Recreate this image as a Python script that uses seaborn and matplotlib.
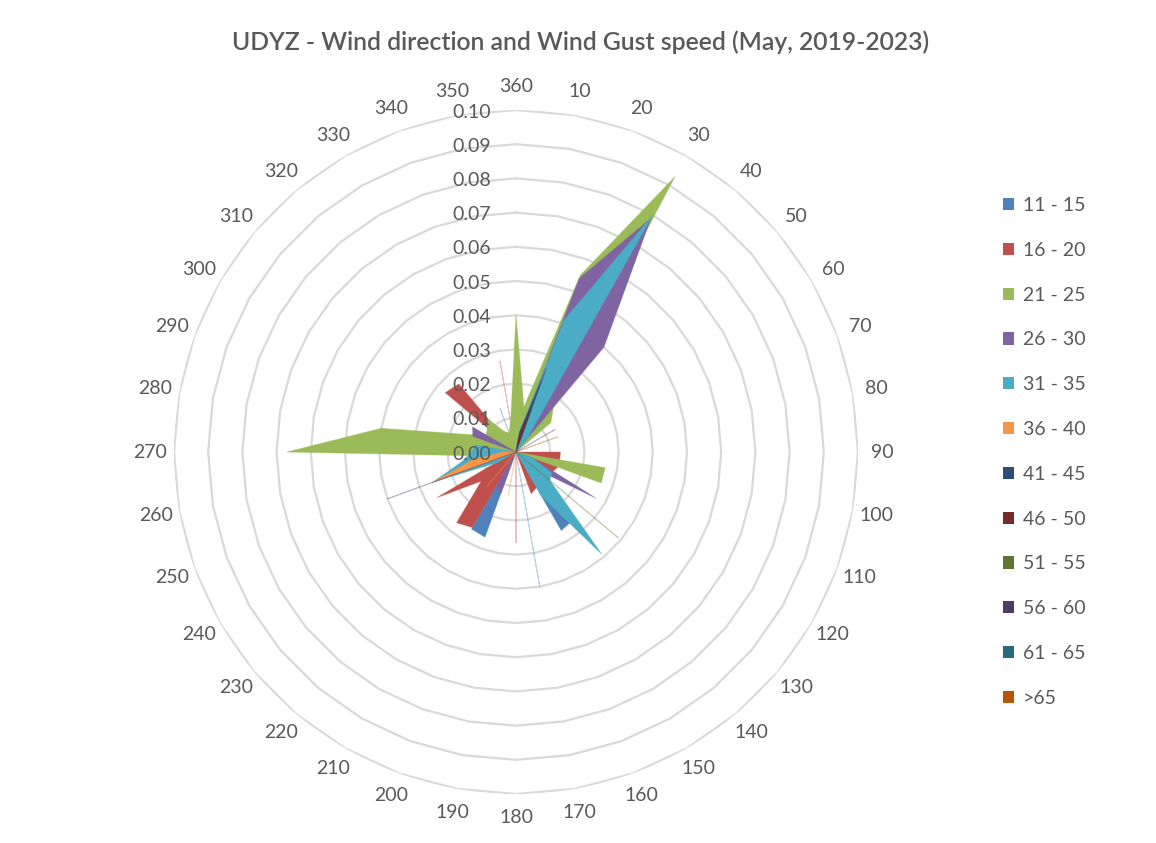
import numpy as np
import matplotlib
matplotlib.use('Agg')
import matplotlib.pyplot as plt
from matplotlib.patches import Patch
from matplotlib.transforms import offset_copy
import seaborn as sns

# wind direction categories (clockwise from north)
directions = ['360', '10', '20', '30', '40', '50', '60', '70', '80', '90', '100', '110',
              '120', '130', '140', '150', '160', '170', '180', '190', '200', '210', '220', '230',
              '240', '250', '260', '270', '280', '290', '300', '310', '320', '330', '340', '350']

speed_bins = ['11 - 15', '16 - 20', '21 - 25', '26 - 30', '31 - 35', '36 - 40',
              '41 - 45', '46 - 50', '51 - 55', '56 - 60', '61 - 65', '>65']

# frequency per direction, one list per gust speed bin
#            360    10     20     30     40     50     60     70     80     90     100    110
#            120    130    140    150    160    170    180    190    200    210    220    230
#            240    250    260    270    280    290    300    310    320    330    340    350
g_11_15 = [0, 0, 0, 0, 0, 0, 0, 0, 0, 0, 0, 0,
           0, 0, 0.026, 0.0265, 0, 0.040, 0, 0, 0.0265, 0.026, 0, 0,
           0, 0, 0, 0, 0, 0, 0, 0, 0, 0, 0.0136, 0]
g_16_20 = [0, 0, 0, 0, 0, 0, 0, 0, 0, 0.013, 0.013, 0.013,
           0.012, 0.012, 0.012, 0.012, 0.013, 0, 0.0265, 0, 0, 0.0255, 0.027, 0.0133,
           0.0266, 0.002, 0, 0, 0, 0, 0, 0.027, 0.026, 0, 0, 0.027]
g_21_25 = [0.040, 0.0134, 0.055, 0.093, 0.017, 0.0133, 0, 0, 0, 0, 0.0265, 0.0265,
           0, 0, 0, 0, 0, 0, 0, 0, 0, 0, 0, 0,
           0, 0, 0.007, 0.067, 0.040, 0.015, 0.010, 0.011, 0.0125, 0.007, 0.006, 0.009]
g_26_30 = [0, 0.005, 0.054, 0.079, 0.040, 0, 0, 0, 0, 0, 0, 0.005,
           0.027, 0.008, 0, 0, 0, 0, 0, 0, 0.013, 0.011, 0, 0,
           0, 0, 0, 0, 0, 0.0134, 0.0147, 0, 0, 0, 0, 0]
g_31_35 = [0, 0.005, 0.041, 0.080, 0.005, 0, 0, 0, 0, 0, 0, 0.005,
           0.012, 0.013, 0.039, 0.015, 0, 0, 0, 0, 0, 0, 0, 0,
           0.006, 0.026, 0.016, 0.013, 0.012, 0, 0, 0, 0, 0, 0, 0]
g_36_40 = [0, 0, 0, 0, 0, 0, 0, 0, 0, 0, 0, 0,
           0, 0, 0, 0, 0, 0, 0, 0.013, 0, 0, 0.013, 0,
           0, 0.026, 0.0127, 0.004, 0, 0, 0, 0, 0, 0, 0, 0]
g_41_45 = [0, 0.006, 0.026, 0, 0, 0, 0, 0, 0, 0, 0, 0,
           0, 0, 0, 0, 0, 0, 0, 0, 0, 0, 0, 0,
           0, 0, 0, 0, 0, 0, 0, 0, 0, 0, 0, 0]
g_46_50 = [0, 0.004, 0.0135, 0, 0, 0, 0, 0, 0, 0, 0, 0,
           0, 0, 0, 0, 0, 0, 0, 0, 0, 0, 0, 0,
           0, 0, 0, 0, 0, 0, 0, 0, 0, 0, 0, 0]
g_51_55 = [0, 0, 0, 0, 0, 0, 0, 0, 0, 0, 0, 0,
           0, 0.039, 0, 0, 0, 0, 0, 0, 0, 0, 0, 0,
           0, 0, 0, 0, 0, 0, 0, 0, 0, 0, 0, 0]
g_56_60 = [0, 0, 0, 0, 0, 0, 0.013, 0, 0, 0, 0, 0,
           0, 0, 0, 0, 0, 0, 0, 0, 0, 0, 0, 0,
           0, 0.040, 0, 0, 0, 0, 0, 0, 0, 0, 0, 0]
g_61_65 = [0, 0, 0, 0, 0, 0, 0, 0, 0, 0, 0, 0,
           0, 0, 0, 0, 0, 0, 0, 0, 0, 0, 0, 0,
           0, 0, 0, 0, 0, 0, 0, 0, 0, 0, 0, 0]
g_over_65 = [0, 0, 0, 0, 0, 0, 0, 0.013, 0, 0, 0, 0,
             0, 0, 0, 0, 0, 0, 0, 0, 0, 0, 0, 0,
             0, 0, 0, 0, 0, 0, 0, 0, 0, 0, 0, 0]

series = [g_11_15, g_16_20, g_21_25, g_26_30, g_31_35, g_36_40,
          g_41_45, g_46_50, g_51_55, g_56_60, g_61_65, g_over_65]

value_ticks = [0.00, 0.01, 0.02, 0.03, 0.04, 0.05, 0.06, 0.07, 0.08, 0.09, 0.10]

sns.set_style('white')
plt.rcParams['font.family'] = ['Lato', 'DejaVu Sans']
colors = sns.color_palette(['#4F81BD', '#C0504D', '#9BBB59', '#8064A2', '#4BACC6', '#F79646',
                            '#2C4D75', '#772C2A', '#5F7530', '#4D3B62', '#276A7C', '#B65708'])
txt = '#595959'

fig = plt.figure(figsize=(11.56, 8.43), dpi=100)
ax = fig.add_axes([0.1505, 0.0581, 0.5917, 0.8114], projection='polar')
ax.set_theta_zero_location('N')
ax.set_theta_direction(-1)
ax.set_ylim(0, 0.10)
ax.grid(False)
ax.set_xticks([])
ax.set_yticks([])
ax.spines['polar'].set_visible(False)

theta = np.deg2rad([int(d) % 360 for d in directions])
theta_c = np.append(theta, theta[0])

# polygonal gridlines like an excel radar chart
for v in value_ticks[1:]:
    ax.plot(theta_c, [v] * len(theta_c), color='#D9D9D9', lw=1.6, zorder=0)

for vals, c in zip(series, colors):
    r = np.append(vals, vals[0])
    ax.fill(theta_c, r, color=c, lw=0, zorder=2)
    ax.plot(theta_c, r, color=c, lw=0.7, alpha=0.35, zorder=2)

for t, lab in zip(theta, directions):
    ax.text(t, 0.107, lab, ha='center', va='center', fontsize=14, color=txt)

trans = offset_copy(ax.transData, fig=fig, x=-25, y=-2, units='dots')
for v in value_ticks:
    ax.text(0, v, f'{v:.2f}', transform=trans, ha='right', va='center',
            fontsize=14, color=txt, zorder=5)

fig.text(0.502, 0.950, 'UDYZ - Wind direction and Wind Gust speed (May, 2019-2023)',
         ha='center', va='center', fontsize=17.8, fontweight='semibold', color=txt)

handles = [Patch(facecolor=c, edgecolor='none') for c in colors]
fig.legend(handles, speed_bins, loc='center left', bbox_to_anchor=(0.859, 0.464),
           frameon=False, fontsize=14, labelcolor=txt, handlelength=0.6, handleheight=0.6,
           handletextpad=0.45, labelspacing=1.43, borderpad=0)

fig.savefig('out.png', dpi=100)
